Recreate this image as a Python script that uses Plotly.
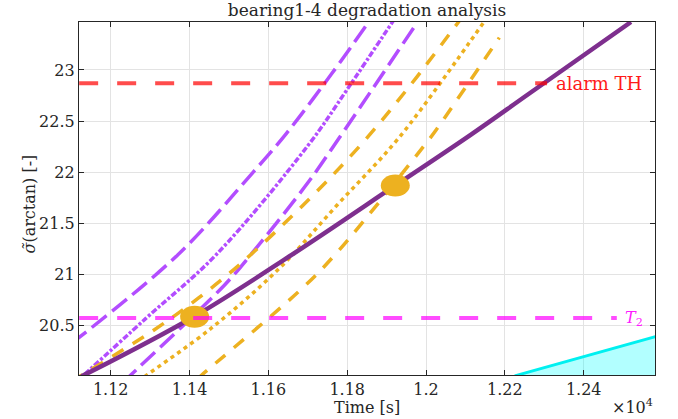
import plotly.graph_objects as go

# ---- data (time in seconds, health indicator sigma~ in arctan units) ----
# model prediction of the degradation trend (solid)
mean_t = [11126, 11411, 11659, 11922, 12115, 12262, 12520]
mean_v = [20.0, 20.584, 21.189, 21.869, 22.37, 22.77, 23.47]

# first forecast band (purple): upper bound, median, lower bound
p_up_t = [11100, 11370, 11560, 11646, 11760, 11860]
p_up_v = [20.32, 21.189, 21.993, 22.38, 22.96, 23.50]
p_mid_t = [11100, 11290, 11467, 11702, 11800, 11920]
p_mid_v = [19.90, 20.57, 21.189, 22.268, 22.81, 23.50]
p_lo_t = [11230, 11251, 11489, 11555, 11702, 11780, 11975]
p_lo_v = [19.935, 20.013, 20.895, 21.189, 21.905, 22.336, 23.45]

# second forecast band (orange): upper bound, median, lower bound
o_up_t = [11100, 11310, 11423, 11532, 11702, 11839, 11960, 12090]
o_up_v = [19.95, 20.454, 20.768, 21.111, 21.729, 22.287, 22.85, 23.51]
o_mid_t = [11270, 11292, 11456, 11626, 11775, 11932, 12148, 12155]
o_mid_v = [19.95, 20.013, 20.474, 21.05, 21.68, 22.34, 23.474, 23.51]
o_lo_t = [11420, 11431, 11687, 11780, 12003, 12026, 12186]
o_lo_v = [19.975, 20.013, 20.866, 21.238, 22.297, 22.415, 23.317]

# remaining-useful-life density near the bottom axis
rul_t = [12225, 12585]
rul_v = [20.005, 20.392]

# detected events on the trend
event_t = [11413, 11922]
event_v = [20.584, 21.869]

# threshold levels
alarm_th = 22.87
alarm_span = [11120, 12307]
t2_level = 20.57
t2_span = [11120, 12484]

x_ticks = [11200, 11400, 11600, 11800, 12000, 12200, 12400]
x_labels = ["1.12", "1.14", "1.16", "1.18", "1.2", "1.22", "1.24"]
y_ticks = [20.5, 21, 21.5, 22, 22.5, 23]
y_labels = ["20.5", "21", "21.5", "22", "22.5", "23"]

PURPLE = "#7E2F8E"
LILAC = "#B34DFF"
ORANGE = "#EDB120"
FONT = "DejaVu Serif"
INK = "#262626"

fig = go.Figure()

fig.add_trace(go.Scatter(x=rul_t, y=rul_v, mode="lines", fill="tozeroy",
                         fillcolor="rgba(0,255,255,0.3)",
                         line=dict(color="#00F0F0", width=3)))

fig.add_trace(go.Scatter(x=p_up_t, y=p_up_v, mode="lines", line_shape="spline",
                         line=dict(color=LILAC, width=3.5, dash="19px,7px")))
fig.add_trace(go.Scatter(x=p_mid_t, y=p_mid_v, mode="lines", line_shape="spline",
                         line=dict(color=LILAC, width=3.5, dash="3px,2px,6px,2px")))
fig.add_trace(go.Scatter(x=p_lo_t, y=p_lo_v, mode="lines", line_shape="spline",
                         line=dict(color=LILAC, width=3.5, dash="19px,7px")))

fig.add_trace(go.Scatter(x=o_up_t, y=o_up_v, mode="lines", line_shape="spline",
                         line=dict(color=ORANGE, width=3.5, dash="13px,11px")))
fig.add_trace(go.Scatter(x=o_mid_t, y=o_mid_v, mode="lines", line_shape="spline",
                         line=dict(color=ORANGE, width=3.5, dash="4px,4px")))
fig.add_trace(go.Scatter(x=o_lo_t, y=o_lo_v, mode="lines", line_shape="spline",
                         line=dict(color=ORANGE, width=3.5, dash="13px,11px")))

fig.add_trace(go.Scatter(x=mean_t, y=mean_v, mode="lines", line_shape="spline",
                         line=dict(color=PURPLE, width=4.5)))

shapes = []
# event markers: slightly wide ellipses sized in pixels
for t, v in zip(event_t, event_v):
    shapes.append(dict(type="circle", xref="x", yref="y",
                       xsizemode="pixel", ysizemode="pixel",
                       xanchor=t, yanchor=v, x0=-14.5, x1=14.5, y0=-11, y1=11,
                       fillcolor=ORANGE, line=dict(width=0), layer="above"))
# threshold lines
shapes.append(dict(type="line", xref="x", yref="y",
                   x0=alarm_span[0], x1=alarm_span[1], y0=alarm_th, y1=alarm_th,
                   line=dict(color="rgba(255,0,0,0.7)", width=4, dash="19px,19px"),
                   layer="above"))
shapes.append(dict(type="line", xref="x", yref="y",
                   x0=t2_span[0], x1=t2_span[1], y0=t2_level, y1=t2_level,
                   line=dict(color="rgba(255,0,255,0.7)", width=4, dash="19px,19px"),
                   layer="above"))

annotations = [
    dict(x=alarm_span[1], y=alarm_th, xref="x", yref="y", text="alarm TH",
         showarrow=False, xanchor="left", yanchor="middle", xshift=7,
         font=dict(family=FONT, size=18, color="#FF1A1A")),
    dict(x=t2_span[1], y=t2_level, xref="x", yref="y", text="<i>T</i><sub>2</sub>",
         showarrow=False, xanchor="left", yanchor="middle", xshift=6,
         font=dict(family=FONT, size=16, color="#FF1AFF")),
    dict(x=0.5, y=0, xref="paper", yref="paper", text="Time [s]",
         showarrow=False, xanchor="center", yanchor="middle", yshift=-32,
         font=dict(family=FONT, size=16, color=INK)),
    dict(x=1, y=0, xref="paper", yref="paper", text="×10<sup>4</sup>",
         showarrow=False, xanchor="right", yanchor="middle", yshift=-31,
         font=dict(family=FONT, size=16, color=INK)),
    dict(x=0, y=0.5, xref="paper", yref="paper", text="<i>σ̃</i>(arctan) [-]",
         showarrow=False, xanchor="center", yanchor="middle", xshift=-50, yshift=-6,
         textangle=-90, font=dict(family=FONT, size=16, color=INK)),
]

axis_common = dict(showline=True, linecolor=INK, linewidth=1.2, mirror="ticks",
                   ticks="inside", ticklen=5, tickwidth=1.2, tickcolor=INK,
                   showgrid=True, gridcolor="#E3E3E3", gridwidth=1,
                   zeroline=False, tickfont=dict(family=FONT, size=16, color=INK))

fig.update_layout(
    width=678, height=419,
    margin=dict(l=79, r=23, t=22, b=44),
    paper_bgcolor="white", plot_bgcolor="white",
    showlegend=False,
    title=dict(text="bearing1-4 degradation analysis", x=0.5, xref="paper",
               xanchor="center", y=1 - 10 / 419, yref="container", yanchor="middle",
               font=dict(family=FONT, size=17, color=INK)),
    xaxis=dict(range=[11119.6, 12580.9], tickvals=x_ticks, ticktext=x_labels,
               **axis_common),
    yaxis=dict(range=[20.013, 23.470], tickvals=y_ticks, ticktext=y_labels,
               **axis_common),
    shapes=shapes,
    annotations=annotations,
)

fig.write_html("out.html")
